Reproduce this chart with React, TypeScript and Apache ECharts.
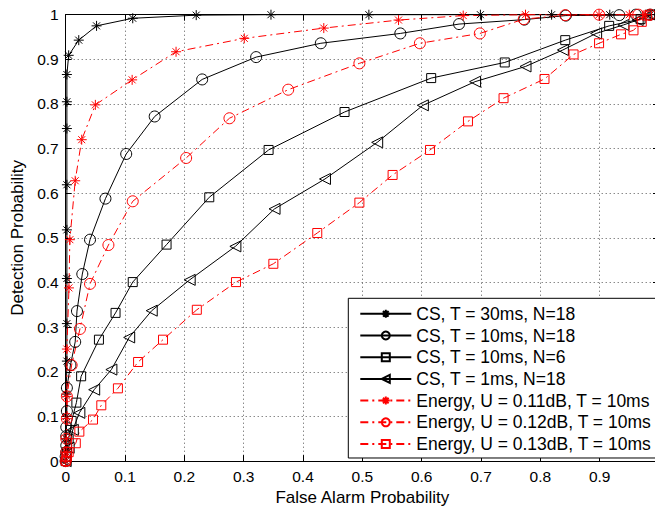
import React, { useEffect, useRef } from "react";
import * as echarts from "echarts";

// ---- data ----
const seriesNames = [
  "CS, T = 30ms, N=18",
  "CS, T = 10ms, N=18",
  "CS, T = 10ms, N=6",
  "CS, T = 1ms, N=18",
  "Energy, U = 0.11dB, T = 10ms",
  "Energy, U = 0.12dB, T = 10ms",
  "Energy, U = 0.13dB, T = 10ms",
];

const cs30msN18 = [
  [0, 0], [0.001, 0.02], [0.001, 0.05], [0.001, 0.1], [0.001, 0.15], [0.002, 0.224],
  [0.002, 0.308], [0.002, 0.409], [0.002, 0.518], [0.002, 0.619], [0.002, 0.745],
  [0.002, 0.805], [0.002, 0.866], [0.005, 0.909], [0.022, 0.943], [0.052, 0.975],
  [0.113, 0.992], [0.22, 0.999], [0.346, 1], [0.511, 1], [0.699, 1], [0.819, 1],
  [0.917, 1], [0.985, 1],
];

const cs10msN18 = [
  [0, 0], [0, 0.01], [0.001, 0.02], [0.001, 0.035], [0.001, 0.056], [0.001, 0.076],
  [0.002, 0.112], [0.002, 0.164], [0.008, 0.215], [0.016, 0.267], [0.019, 0.336],
  [0.028, 0.419], [0.041, 0.496], [0.067, 0.588], [0.102, 0.688], [0.15, 0.772],
  [0.23, 0.855], [0.321, 0.905], [0.43, 0.936], [0.564, 0.958], [0.663, 0.979],
  [0.773, 0.989], [0.843, 0.998], [0.933, 0.999], [0.961, 1], [0.985, 1],
];

const cs10msN6 = [
  [0, 0], [0.002, 0.02], [0.005, 0.05], [0.01, 0.09], [0.018, 0.131], [0.026, 0.19],
  [0.056, 0.272], [0.084, 0.332], [0.113, 0.401], [0.17, 0.485], [0.242, 0.591],
  [0.342, 0.697], [0.47, 0.782], [0.616, 0.858], [0.74, 0.893], [0.842, 0.943],
  [0.916, 0.975], [0.969, 0.99], [0.985, 1],
];

const cs1msN18 = [
  [0, 0], [0.005, 0.03], [0.012, 0.07], [0.023, 0.108], [0.048, 0.16], [0.077, 0.205],
  [0.107, 0.277], [0.145, 0.337], [0.209, 0.406], [0.286, 0.481], [0.352, 0.565],
  [0.437, 0.632], [0.525, 0.714], [0.602, 0.797], [0.69, 0.85], [0.775, 0.884],
  [0.838, 0.921], [0.894, 0.958], [0.94, 0.977], [0.964, 0.988], [0.985, 1],
];

const energyU011 = [
  [0, 0], [0.001, 0.02], [0.001, 0.05], [0.002, 0.095], [0.002, 0.145], [0.002, 0.251],
  [0.0055, 0.388], [0.007, 0.496], [0.016, 0.628], [0.027, 0.72], [0.05, 0.798],
  [0.112, 0.854], [0.186, 0.917], [0.301, 0.947], [0.435, 0.97], [0.561, 0.988],
  [0.67, 0.998], [0.775, 1], [0.899, 1], [0.95, 1], [0.977, 1],
];

const energyU012 = [
  [0, 0], [0.001, 0.02], [0.001, 0.05], [0.002, 0.095], [0.002, 0.145], [0.01, 0.215],
  [0.024, 0.296], [0.041, 0.397], [0.072, 0.484], [0.113, 0.582], [0.203, 0.679],
  [0.276, 0.768], [0.375, 0.832], [0.495, 0.891], [0.597, 0.936], [0.698, 0.958],
  [0.772, 0.99], [0.842, 0.999], [0.899, 1], [0.965, 1], [0.985, 1],
];

const energyU013 = [
  [0, 0], [0.002, 0.01], [0.005, 0.02], [0.017, 0.04], [0.023, 0.066], [0.046, 0.093],
  [0.06, 0.125], [0.088, 0.163], [0.122, 0.222], [0.164, 0.272], [0.221, 0.339],
  [0.287, 0.401], [0.35, 0.442], [0.424, 0.511], [0.495, 0.579], [0.551, 0.641],
  [0.614, 0.697], [0.678, 0.761], [0.738, 0.813], [0.807, 0.856], [0.856, 0.911],
  [0.899, 0.936], [0.936, 0.956], [0.957, 0.965], [0.971, 0.984], [0.98, 0.998],
];

const seriesData = [cs30msN18, cs10msN18, cs10msN6, cs1msN18, energyU011, energyU012, energyU013];

const xAxisName = "False Alarm Probability";
const yAxisName = "Detection Probability";

// ---- styles ----
const STAR = "path://M0,5L10,5M5,0L5,10M1.5,1.5L8.5,8.5M1.5,8.5L8.5,1.5";
const TRI_LEFT = "path://M0,5L9,0L9,10Z";
const symbols = [STAR, "circle", "rect", TRI_LEFT, STAR, "circle", "rect"];
const symbolSizes = [10, 11, 9, 11, 10, 11, 9];
const colors = ["#000", "#000", "#000", "#000", "#ff0000", "#ff0000", "#ff0000"];
const lineTypes: any[] = ["solid", "solid", "solid", "solid", [8, 4, 2, 4], [8, 4, 2, 4], [8, 4, 2, 4]];

const FONT = "'Liberation Sans', Arial, Helvetica, sans-serif";

const fmtY = (v: number) => String(Math.round(v * 10) / 10);
const fmtX = (v: number) => (v > 0.95 ? "" : String(Math.round(v * 10) / 10));

export default function App() {
  const ref = useRef<HTMLDivElement>(null);
  useEffect(() => {
    if (!ref.current) return;
    const chart = echarts.init(ref.current, null, { renderer: "svg" });
    const axisCommon = {
      type: "value" as const,
      min: 0,
      max: 1,
      interval: 0.1,
    };
    const option: any = {
      animation: false,
      backgroundColor: "#fff",
      textStyle: { fontFamily: FONT, color: "#000" },
      grid: { left: 65.7, right: 0.3, top: 14.7, bottom: 49.3 },
      legend: {
        orient: "vertical",
        left: 348.3,
        top: 298.3,
        data: seriesNames,
        padding: [6.5, 5, 5, 11],
        itemWidth: 51,
        itemHeight: 10,
        itemGap: 3.7,
        borderColor: "#000",
        borderWidth: 1,
        backgroundColor: "#fff",
        textStyle: { fontSize: 17.5, color: "#000", fontFamily: FONT },
        selectedMode: false,
      },
      xAxis: [
        {
          ...axisCommon,
          position: "bottom",
          name: xAxisName,
          nameLocation: "middle",
          nameGap: 27,
          nameTextStyle: { fontSize: 17, color: "#000", fontFamily: FONT },
          axisLine: { show: true, lineStyle: { color: "#000", width: 1 } },
          axisTick: { show: true, inside: true, length: 6, lineStyle: { color: "#000" } },
          axisLabel: { show: true, fontSize: 15.5, color: "#000", margin: 7, formatter: fmtX, fontFamily: FONT },
          splitLine: { show: true, lineStyle: { color: "#555", width: 1, type: [1, 3] } },
        },
        {
          ...axisCommon,
          position: "top",
          axisLine: { show: true, onZero: false, lineStyle: { color: "#000", width: 1 } },
          axisTick: { show: true, inside: true, length: 6, lineStyle: { color: "#000" } },
          axisLabel: { show: false },
          splitLine: { show: false },
        },
      ],
      yAxis: [
        {
          ...axisCommon,
          position: "left",
          name: yAxisName,
          nameLocation: "middle",
          nameGap: 40,
          nameTextStyle: { fontSize: 17, color: "#000", fontFamily: FONT },
          axisLine: { show: true, lineStyle: { color: "#000", width: 1 } },
          axisTick: { show: true, inside: true, length: 6, lineStyle: { color: "#000" } },
          axisLabel: { show: true, fontSize: 15.5, color: "#000", margin: 7, formatter: fmtY, fontFamily: FONT },
          splitLine: { show: true, lineStyle: { color: "#555", width: 1, type: [1, 3] } },
        },
        {
          ...axisCommon,
          position: "right",
          axisLine: { show: true, onZero: false, lineStyle: { color: "#000", width: 1 } },
          axisTick: { show: true, inside: true, length: 6, lineStyle: { color: "#000" } },
          axisLabel: { show: false },
          splitLine: { show: false },
        },
      ],
      series: seriesNames.map((name, i) => ({
        name,
        type: "line",
        data: seriesData[i],
        xAxisIndex: 0,
        yAxisIndex: 0,
        symbol: symbols[i],
        symbolSize: symbolSizes[i],
        showSymbol: true,
        showAllSymbol: true,
        clip: false,
        silent: true,
        lineStyle: { color: colors[i], width: 1, type: lineTypes[i] },
        itemStyle: { color: "none", borderColor: colors[i], borderWidth: 1 },
        emphasis: { disabled: true },
      })),
    };
    chart.setOption(option);
    return () => chart.dispose();
  }, []);
  return (
    <div
      ref={ref}
      style={{ position: "fixed", left: 0, top: 0, width: 662, height: 511, background: "#fff" }}
    />
  );
}
